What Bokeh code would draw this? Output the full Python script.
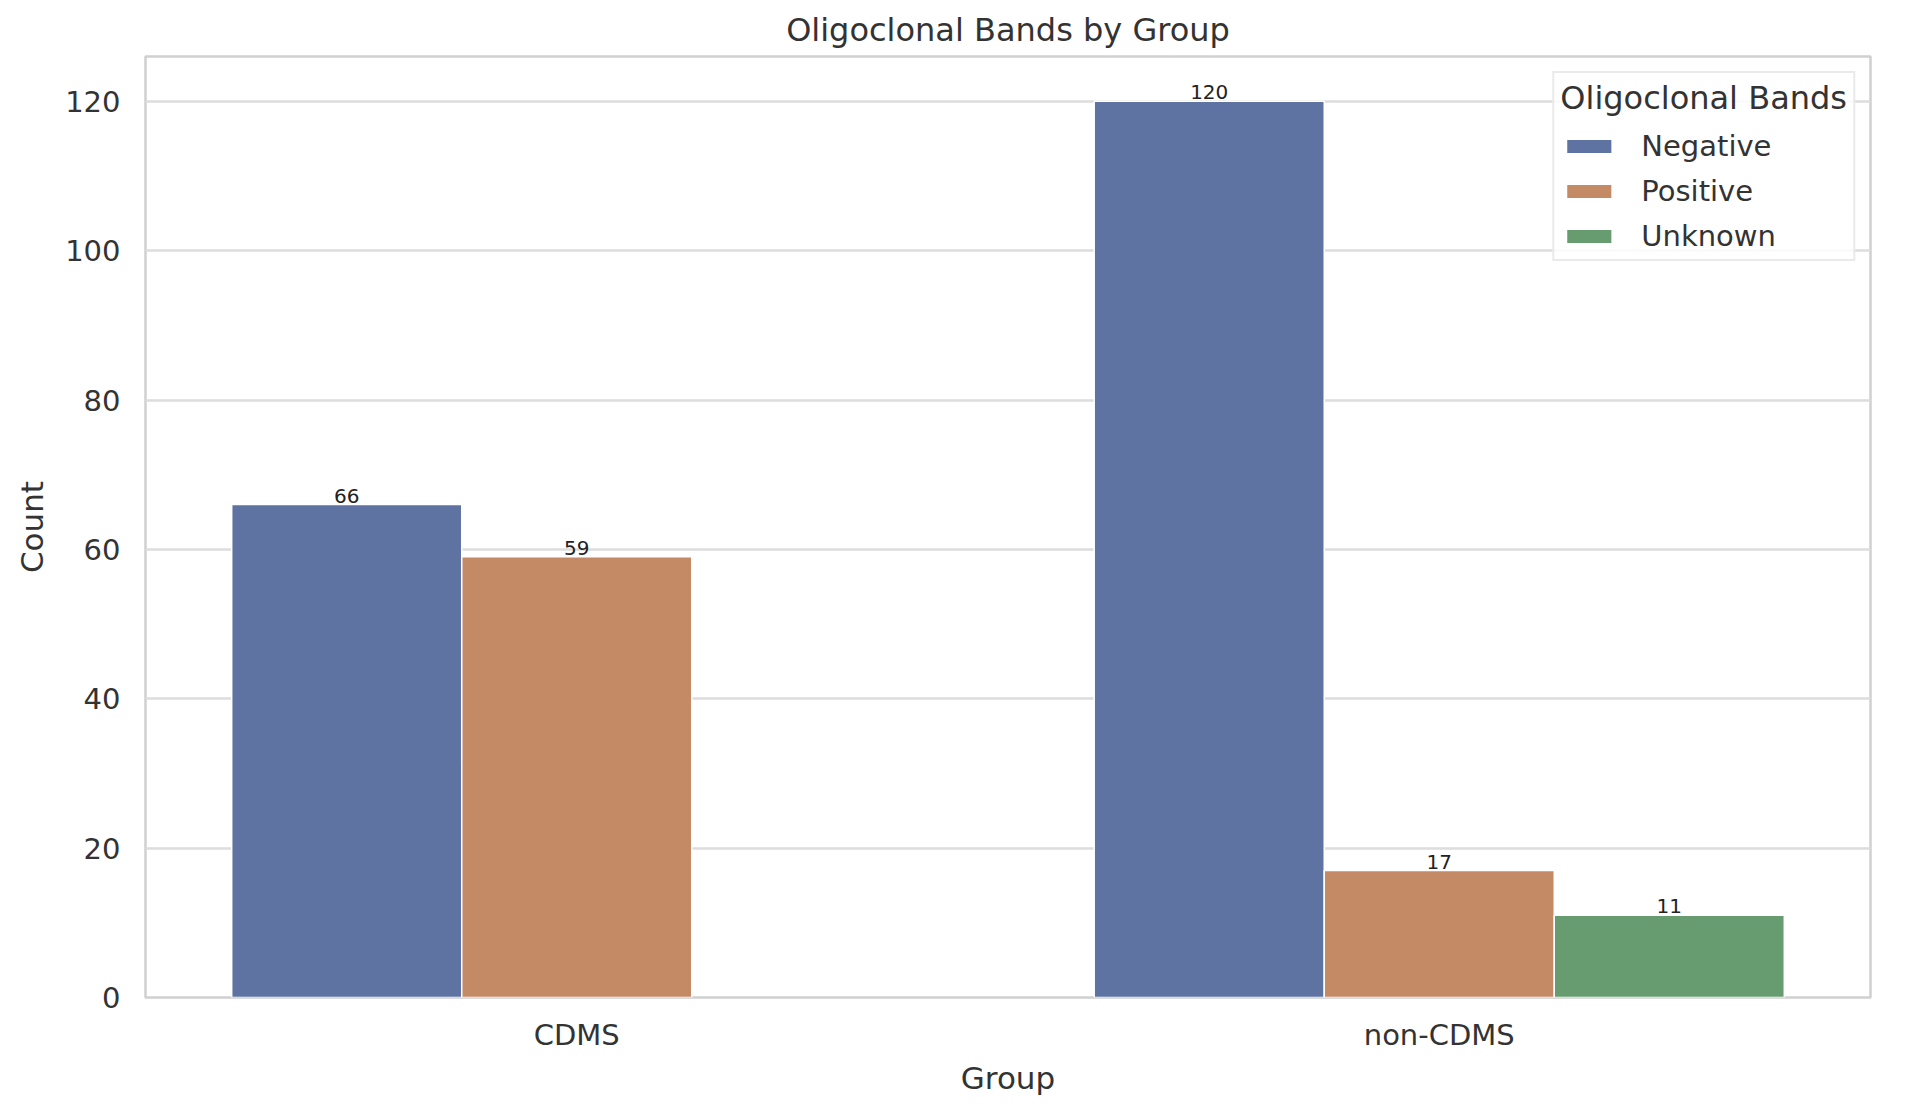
from bokeh.plotting import figure
from bokeh.models import ColumnDataSource, FactorRange, Range1d, SingleIntervalTicker, Legend
from bokeh.transform import dodge
from bokeh.core.properties import value
from bokeh.embed import file_html
from bokeh.resources import INLINE

groups = ["CDMS", "non-CDMS"]
bands = ["Negative", "Positive", "Unknown"]
negative = [66, 120]
positive = [59, 17]
unknown = [None, 11]
colors = ["#5e73a2", "#c38a65", "#679c70"]
offsets = [-0.2667, 0.0, 0.2667]

FONT = "DejaVu Sans"
TXT = "#333333"

p = figure(width=1906, height=1116, output_backend="svg", toolbar_location=None,
           x_range=FactorRange(factors=groups, range_padding=0),
           y_range=Range1d(0, 126),
           min_border_left=145, min_border_right=36, min_border_top=56, min_border_bottom=119,
           title="Oligoclonal Bands by Group")

p.title.text_font = FONT
p.title.text_font_size = "32px"
p.title.text_font_style = "normal"
p.title.text_color = TXT
p.title.align = "center"
p.title.offset = 0
p.title.standoff = 16

p.outline_line_color = "#d0d0d0"
p.outline_line_width = 2.5
p.xgrid.grid_line_color = None
p.ygrid.grid_line_color = "#dddddd"
p.ygrid.grid_line_width = 2.5
p.yaxis.ticker = SingleIntervalTicker(interval=20)

for ax in (p.xaxis[0], p.yaxis[0]):
    ax.axis_line_color = None
    ax.major_tick_line_color = None
    ax.minor_tick_line_color = None
    ax.major_label_text_font = FONT
    ax.major_label_text_font_size = "29px"
    ax.major_label_text_color = TXT
    ax.axis_label_text_font = FONT
    ax.axis_label_text_font_size = "31px"
    ax.axis_label_text_font_style = "normal"
    ax.axis_label_text_color = TXT

p.xaxis.axis_label = "Group"
p.yaxis.axis_label = "Count"
p.yaxis.major_label_standoff = 19
p.yaxis.axis_label_standoff = 12
p.xaxis.major_label_standoff = 14
p.xaxis.axis_label_standoff = 5

series = [negative, positive, unknown]
items = []
for band, vals, col, off in zip(bands, series, colors, offsets):
    xs = [g for g, v in zip(groups, vals) if v is not None]
    ys = [v for v in vals if v is not None]
    src = ColumnDataSource(dict(group=xs, count=ys, label=[str(v) for v in ys]))
    r = p.vbar(x=dodge("group", off, range=p.x_range), top="count", width=0.2667,
               source=src, fill_color=col, line_color="white", line_width=1.5)
    items.append((band, [r]))
    p.text(x=dodge("group", off, range=p.x_range), y="count", text="label", source=src,
           text_align="center", text_baseline="bottom", y_offset=-2,
           text_font=value(FONT), text_font_size="20px", text_color="#222222")

legend = Legend(items=items, location="top_right", title="Oligoclonal Bands")
legend.title_text_font = FONT
legend.title_text_font_size = "32px"
legend.title_text_font_style = "normal"
legend.title_text_color = TXT
legend.title_standoff = 12
legend.label_text_font = FONT
legend.label_text_font_size = "29px"
legend.label_text_color = TXT
legend.glyph_width = 57
legend.glyph_height = 18
legend.label_standoff = 24
legend.spacing = 11
legend.padding = 6
legend.margin = 15
legend.border_line_color = "#d6d6d6"
legend.border_line_width = 2
legend.background_fill_alpha = 0.85
p.add_layout(legend)

open("out.html", "w").write(file_html(p, INLINE))
